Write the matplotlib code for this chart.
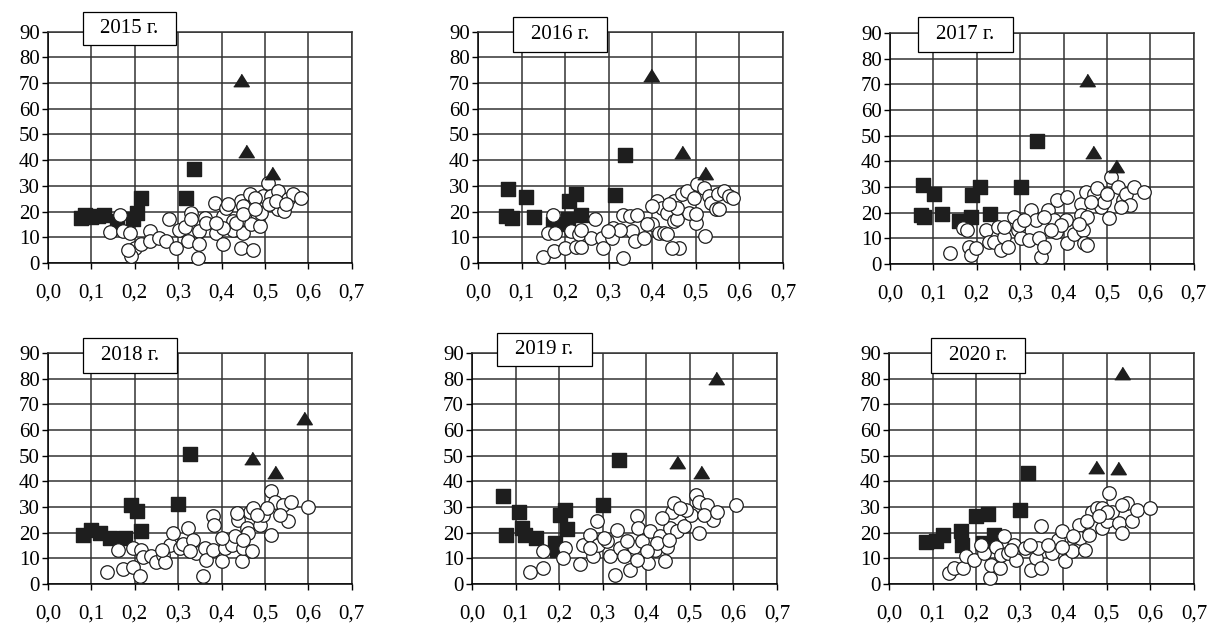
import matplotlib
matplotlib.use('Agg')
import matplotlib.pyplot as plt
from matplotlib.patches import Rectangle

plt.rcParams['font.family'] = ['Liberation Serif', 'DejaVu Serif']

# Подписи осей
x_ticks = [0.0, 0.1, 0.2, 0.3, 0.4, 0.5, 0.6, 0.7]
x_tick_labels = ['0,0', '0,1', '0,2', '0,3', '0,4', '0,5', '0,6', '0,7']
y_ticks = [0, 10, 20, 30, 40, 50, 60, 70, 80, 90]
titles = ['2015 г.', '2016 г.', '2017 г.', '2018 г.', '2019 г.', '2020 г.']

# ---- 2015 ----
circ_x_2015 = [.165, .142, .173, .188, .200, .192, .184, .215, .234, .234, .256, .280, .273, .296, .303,
               .315, .323, .330, .330, .346, .349, .349, .361, .384, .388, .403, .403, .411, .426, .445,
               .449, .445, .453, .465, .468, .472, .488, .495, .495, .507, .514, .530, .530, .545, .553,
               .564, .583, .449, .476, .492, .426, .403, .365, .388, .510, .526, .549, .434, .449, .415, .476]
circ_y_2015 = [18.6, 12.1, 12.6, 11.7, 5.9, 2.6, 5.2, 7.2, 12.4, 8.5, 9.8, 17.0, 8.5, 5.9, 13.0,
               14.0, 8.5, 19.6, 17.0, 2.0, 12.4, 7.2, 17.6, 23.5, 11.7, 18.3, 7.2, 21.5, 13.0, 24.1,
               11.7, 5.9, 17.0, 26.7, 15.0, 5.2, 14.3, 22.2, 26.0, 31.3, 26.0, 28.0, 20.9, 20.2, 24.8,
               26.7, 25.4, 22.0, 25.4, 19.6, 16.3, 13.7, 15.6, 15.6, 22.8, 24.1, 22.8, 15.6, 19.1, 22.8, 20.9]
sq_x_2015 = [.077, .085, .100, .115, .130, .158, .195, .204, .215, .319, .336]
sq_y_2015 = [17.6, 18.6, 17.9, 18.3, 18.5, 16.3, 17.0, 19.6, 25.2, 25.4, 36.5]
tri_x_2015 = [.445, .457, .517]
tri_y_2015 = [71.2, 43.5, 35.0]

# ---- 2016 ----
circ_x_2016 = [.172, .160, .176, .149, .174, .199, .226, .214, .233, .236, .268, .260, .284, .288, .311,
               .307, .334, .334, .349, .365, .353, .361, .380, .399, .411, .415, .426, .422, .434, .450,
               .450, .461, .446, .457, .469, .480, .496, .500, .503, .519, .521, .530, .534, .546, .554,
               .550, .565, .577, .586, .484, .457, .438, .399, .388, .326, .299, .237, .434, .500]
circ_y_2016 = [18.6, 11.7, 11.7, 2.2, 4.6, 5.9, 6.1, 12.4, 11.1, 6.1, 17.0, 9.8, 9.8, 5.9, 13.7,
               9.8, 2.0, 18.6, 18.3, 18.6, 12.4, 8.5, 9.8, 15.0, 24.1, 11.7, 11.7, 21.5, 19.6, 24.1,
               16.3, 5.9, 5.9, 17.0, 26.7, 28.0, 25.4, 15.6, 30.6, 29.3, 10.3, 26.0, 23.5, 20.9, 20.9,
               26.7, 28.0, 26.0, 25.4, 19.6, 21.5, 22.8, 22.2, 15.0, 13.0, 12.4, 13.0, 11.1, 18.9]
sq_x_2016 = [.068, .110, .064, .079, .129, .172, .187, .206, .210, .226, .236, .314, .338]
sq_y_2016 = [28.7, 25.7, 18.3, 17.3, 17.9, 15.0, 15.0, 17.0, 24.1, 27.0, 18.6, 26.5, 41.9]
tri_x_2016 = [.397, .469, .522]
tri_y_2016 = [73.2, 43.0, 35.2]

# ---- 2017 ----
circ_x_2017 = [.138, .169, .178, .182, .186, .198, .221, .228, .240, .249, .255, .263, .271, .286, .294,
               .302, .298, .321, .325, .336, .344, .348, .355, .363, .378, .382, .386, .409, .405, .409,
               .425, .440, .440, .444, .448, .455, .452, .455, .471, .478, .486, .494, .505, .509, .525,
               .536, .544, .552, .563, .586, .532, .463, .436, .394, .371, .355, .309, .263, .501]
circ_y_2017 = [4.2, 13.9, 13.2, 6.8, 3.5, 6.1, 13.2, 8.7, 8.7, 14.5, 5.5, 10.6, 6.8, 18.4, 13.2,
               10.0, 15.2, 9.4, 21.0, 17.1, 10.0, 2.9, 6.8, 21.0, 17.1, 12.6, 24.9, 26.2, 17.1, 8.1,
               11.9, 23.6, 19.1, 13.2, 8.1, 7.4, 28.2, 18.4, 27.5, 29.5, 22.3, 24.3, 17.8, 34.0, 30.1,
               24.9, 27.5, 23.0, 30.1, 28.2, 22.3, 24.3, 15.8, 15.2, 13.2, 18.4, 17.1, 14.5, 27.5]
sq_x_2017 = [.075, .102, .071, .078, .121, .159, .173, .186, .190, .208, .231, .303, .338]
sq_y_2017 = [30.8, 27.5, 19.1, 18.2, 19.7, 16.9, 16.5, 18.2, 26.9, 29.9, 19.7, 29.9, 48.0]
tri_x_2017 = [.453, .467, .522]
tri_y_2017 = [71.6, 43.5, 38.1]

# ---- 2018 ----
circ_x_2018 = [.135, .162, .173, .196, .212, .196, .215, .218, .238, .248, .265, .269, .281, .288, .304,
               .310, .323, .335, .342, .358, .362, .365, .381, .382, .381, .400, .408, .423, .431, .438,
               .446, .450, .458, .462, .465, .472, .488, .496, .515, .515, .523, .542, .554, .561, .600,
               .504, .435, .400, .327, .262, .469, .450, .481, .535]
circ_y_2018 = [4.7, 13.3, 6.0, 6.6, 3.0, 14.0, 13.3, 10.4, 10.8, 8.5, 11.4, 8.5, 15.3, 19.8, 14.0,
               15.5, 21.8, 17.2, 12.0, 3.0, 14.0, 9.5, 26.3, 23.1, 13.3, 8.8, 14.0, 15.3, 18.5, 25.0,
               8.8, 14.0, 21.8, 19.8, 28.2, 29.5, 23.0, 26.9, 36.3, 19.2, 32.1, 30.8, 24.4, 32.1, 29.8,
               29.5, 27.6, 17.9, 12.7, 13.3, 12.7, 17.2, 26.9, 26.9]
sq_x_2018 = [.081, .100, .119, .142, .177, .192, .205, .215, .300, .327]
sq_y_2018 = [19.2, 21.1, 19.8, 17.9, 18.1, 30.8, 28.5, 20.5, 31.2, 50.8]
tri_x_2018 = [.469, .523, .591]
tri_y_2018 = [49.2, 43.8, 64.8]

# ---- 2019 ----
circ_x_2019 = [.134, .162, .162, .213, .209, .248, .255, .271, .278, .286, .290, .309, .317, .328, .332,
               .340, .348, .363, .371, .378, .382, .390, .405, .409, .421, .432, .444, .448, .455, .459,
               .463, .471, .486, .502, .513, .521, .521, .540, .552, .605, .490, .436, .425, .355, .302,
               .271, .478, .532, .563, .402, .452, .378]
circ_y_2019 = [4.7, 6.2, 12.7, 14.0, 10.1, 7.8, 15.3, 19.2, 10.8, 24.4, 15.3, 16.6, 10.8, 3.6, 21.1,
               14.0, 10.8, 5.6, 14.6, 26.3, 21.8, 16.6, 8.2, 20.5, 13.3, 18.5, 8.8, 14.6, 21.8, 28.2,
               31.5, 20.5, 22.4, 26.9, 34.7, 32.1, 19.8, 30.8, 25.0, 30.6, 28.8, 25.6, 15.9, 16.6, 17.9,
               14.0, 29.5, 26.9, 28.2, 12.7, 17.2, 9.5]
sq_x_2019 = [.071, .108, .078, .115, .121, .146, .190, .194, .203, .213, .218, .300, .337]
sq_y_2019 = [34.1, 28.2, 19.2, 21.8, 19.2, 18.1, 15.9, 13.3, 26.9, 28.9, 21.5, 30.6, 48.2]
tri_x_2019 = [.471, .526, .559]
tri_y_2019 = [47.5, 43.6, 80.3]

# ---- 2020 ----
circ_x_2020 = [.138, .150, .169, .177, .196, .219, .231, .235, .246, .254, .258, .265, .273, .288, .292,
               .312, .327, .338, .350, .350, .342, .373, .388, .396, .404, .412, .419, .435, .438, .450,
               .458, .465, .477, .488, .500, .505, .512, .527, .535, .546, .558, .569, .600, .488, .500,
               .454, .396, .365, .281, .212, .423, .481, .535, .323]
circ_y_2020 = [4.3, 6.2, 6.2, 10.8, 9.5, 12.0, 2.3, 7.5, 14.6, 6.2, 11.4, 18.5, 12.0, 15.3, 9.5,
               14.0, 5.6, 10.1, 6.2, 22.4, 14.0, 12.0, 17.2, 20.5, 8.8, 14.0, 12.7, 23.1, 17.9, 13.3,
               19.2, 28.2, 29.5, 21.8, 24.4, 35.4, 28.2, 23.7, 19.8, 31.5, 24.4, 28.9, 29.5, 29.5, 27.9,
               24.4, 14.6, 15.3, 13.3, 15.3, 18.5, 26.3, 30.8, 15.3]
sq_x_2020 = [.085, .108, .125, .165, .167, .200, .228, .215, .241, .300, .318]
sq_y_2020 = [16.3, 16.8, 19.2, 20.5, 15.3, 26.3, 27.2, 15.9, 19.2, 28.9, 43.1]
tri_x_2020 = [.475, .525, .534]
tri_y_2020 = [45.5, 45.0, 82.3]

panels = [
    (circ_x_2015, circ_y_2015, sq_x_2015, sq_y_2015, tri_x_2015, tri_y_2015),
    (circ_x_2016, circ_y_2016, sq_x_2016, sq_y_2016, tri_x_2016, tri_y_2016),
    (circ_x_2017, circ_y_2017, sq_x_2017, sq_y_2017, tri_x_2017, tri_y_2017),
    (circ_x_2018, circ_y_2018, sq_x_2018, sq_y_2018, tri_x_2018, tri_y_2018),
    (circ_x_2019, circ_y_2019, sq_x_2019, sq_y_2019, tri_x_2019, tri_y_2019),
    (circ_x_2020, circ_y_2020, sq_x_2020, sq_y_2020, tri_x_2020, tri_y_2020),
]

# положение осей на рисунке (доли фигуры)
axes_pos = [
    [0.0395, 0.578, 0.250, 0.371],
    [0.3934, 0.578, 0.251, 0.371],
    [0.7325, 0.576, 0.250, 0.371],
    [0.0395, 0.0626, 0.250, 0.371],
    [0.3885, 0.0626, 0.251, 0.371],
    [0.7317, 0.0626, 0.251, 0.371],
]
# рамки с годом (доли осей): x0, x1, y0, y1
box_pos = [
    (0.115, 0.421, 0.944, 1.087),
    (0.115, 0.423, 0.913, 1.065),
    (0.092, 0.405, 0.918, 1.069),
    (0.115, 0.424, 0.913, 1.065),
    (0.082, 0.393, 0.944, 1.087),
    (0.138, 0.446, 0.913, 1.065),
]

tri_marker = [(-1, -0.8), (1, -0.8), (0, 0.8)]
ink = '#1e1e1e'

fig = plt.figure(figsize=(12.15, 6.23), dpi=100)

for i, (cx, cy, sx, sy, tx, ty) in enumerate(panels):
    ax = fig.add_axes(axes_pos[i])
    ax.set_xlim(0, 0.7)
    ax.set_ylim(0, 90)
    ax.set_xticks(x_ticks)
    ax.set_xticklabels(x_tick_labels)
    ax.set_yticks(y_ticks)
    ax.grid(True, color='#333333', linewidth=1.1)
    ax.set_axisbelow(True)
    for s in ['top', 'right']:
        ax.spines[s].set_color('#333333')
        ax.spines[s].set_linewidth(1.1)
    for s in ['left', 'bottom']:
        ax.spines[s].set_color('black')
        ax.spines[s].set_linewidth(1.1)
    ax.tick_params(axis='x', direction='out', length=4, width=1, pad=11, labelsize=15)
    ax.tick_params(axis='y', direction='out', length=4, width=1, pad=2, labelsize=15)

    ax.scatter(sx, sy, marker='s', s=88, c=ink, zorder=3, clip_on=False)
    ax.scatter(cx, cy, marker='o', s=95, facecolors='white', edgecolors=ink,
               linewidths=0.9, zorder=4, clip_on=False)
    ax.scatter(tx, ty, marker=tri_marker, s=125, c=ink, zorder=5, clip_on=False)

    x0, x1, y0, y1 = box_pos[i]
    ax.add_patch(Rectangle((x0, y0), x1 - x0, y1 - y0, transform=ax.transAxes,
                           facecolor='white', edgecolor='black', linewidth=0.9,
                           clip_on=False, zorder=6))
    ax.text((x0 + x1) / 2, (y0 + y1) / 2, titles[i], transform=ax.transAxes,
            ha='center', va='center', fontsize=15, zorder=7)

fig.savefig('out.png', dpi=100)
